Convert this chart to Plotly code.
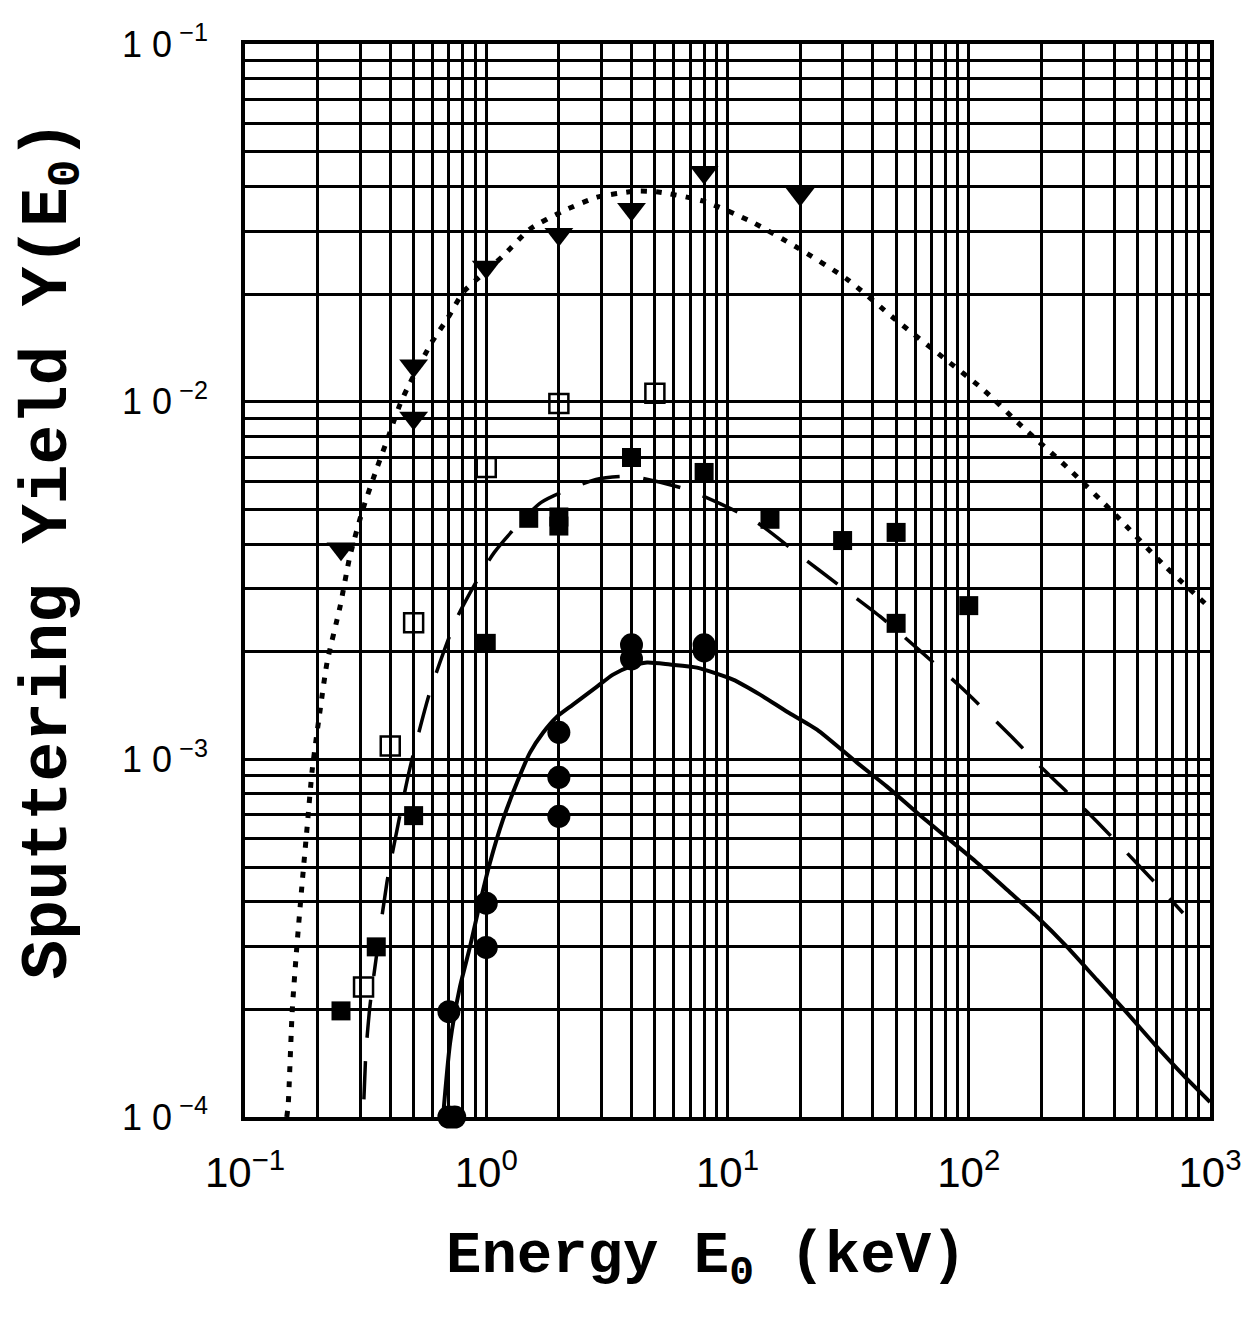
import plotly.graph_objects as go

# ---- measured points -------------------------------------------------------
energy_tri = [0.25, 0.5, 0.5, 1, 2, 4, 8, 20]
yield_tri = [3.88e-3, 1.26e-2, 9.0e-3, 2.38e-2, 2.94e-2, 3.45e-2, 4.38e-2, 3.80e-2]

energy_open = [0.31, 0.4, 0.5, 1, 2, 5]
yield_open = [2.31e-4, 1.09e-3, 2.41e-3, 6.55e-3, 9.89e-3, 1.055e-2]

energy_sq = [0.25, 0.35, 0.5, 1, 1.5, 2, 2, 4, 8, 15, 30, 50, 50, 100]
yield_sq = [1.98e-4, 2.99e-4, 6.96e-4, 2.11e-3, 4.72e-3, 4.76e-3, 4.49e-3,
            6.98e-3, 6.34e-3, 4.69e-3, 4.09e-3, 4.31e-3, 2.40e-3, 2.69e-3]

energy_circ = [0.7, 0.74, 0.7, 1, 1, 2, 2, 2, 4, 4, 8, 8]
yield_circ = [1.0e-4, 1.0e-4, 1.97e-4, 2.98e-4, 3.96e-4, 6.93e-4, 8.91e-4,
              1.19e-3, 1.91e-3, 2.09e-3, 2.01e-3, 2.09e-3]

# ---- calculated yield curves ------------------------------------------------
energy_dot = [0.149, 0.151, 0.157, 0.164, 0.172, 0.181, 0.190, 0.205, 0.219,
              0.248, 0.272, 0.308, 0.353, 0.392, 0.439, 0.474, 0.596, 0.688,
              0.801, 0.916, 1.17, 1.52, 2.08, 2.88, 4.22, 5.25, 7.91, 12.4,
              19.4, 31.3, 49.5, 78.2, 115, 166, 256, 404, 639, 1000]
yield_dot = [1.0e-4, 1.08e-4, 1.99e-4, 2.99e-4, 4.40e-4, 6.48e-4, 9.36e-4,
             1.38e-3, 1.87e-3, 2.68e-3, 3.69e-3, 5.00e-3, 6.55e-3, 7.95e-3,
             9.83e-3, 1.10e-2, 1.47e-2, 1.70e-2, 2.02e-2, 2.20e-2, 2.55e-2,
             3.04e-2, 3.41e-2, 3.73e-2, 3.88e-2, 3.85e-2, 3.64e-2, 3.20e-2,
             2.70e-2, 2.20e-2, 1.70e-2, 1.33e-2, 1.08e-2, 8.53e-3, 6.55e-3,
             4.84e-3, 3.51e-3, 2.65e-3]

energy_dash = [0.311, 0.317, 0.330, 0.388, 0.431, 0.483, 0.585, 0.757, 1.08,
               1.69, 2.85, 3.94, 6.73, 12.9, 20.2, 28.4, 42.9, 63.4, 92.9,
               148, 197, 334, 592, 773]
yield_dash = [1.12e-4, 1.51e-4, 2.06e-4, 4.55e-4, 6.57e-4, 9.48e-4, 1.55e-3,
              2.49e-3, 3.79e-3, 5.23e-3, 6.06e-3, 6.18e-3, 5.69e-3, 4.65e-3,
              3.69e-3, 3.10e-3, 2.51e-3, 2.00e-3, 1.59e-3, 1.17e-3, 9.60e-4,
              6.78e-4, 4.52e-4, 3.72e-4]

energy_solid = [0.662, 0.708, 0.778, 0.856, 0.942, 1.036, 1.173, 1.341, 1.518,
                1.719, 1.965, 2.288, 2.878, 3.353, 3.944, 4.638, 5.775, 7.474,
                10.54, 13.64, 17.65, 23.50, 34.42, 45.83, 61.04, 81.27, 108.2,
                144.1, 191.8, 255.5, 340.1, 452.9, 603.0, 773.0, 1000]
yield_solid = [1.0e-4, 1.61e-4, 2.31e-4, 2.99e-4, 3.97e-4, 5.14e-4, 6.78e-4,
               8.61e-4, 1.044e-3, 1.187e-3, 1.316e-3, 1.422e-3, 1.597e-3,
               1.725e-3, 1.816e-3, 1.865e-3, 1.841e-3, 1.805e-3, 1.671e-3,
               1.517e-3, 1.359e-3, 1.211e-3, 9.79e-4, 8.39e-4, 7.09e-4,
               6.04e-4, 5.14e-4, 4.317e-4, 3.63e-4, 2.99e-4, 2.417e-4,
               1.954e-4, 1.570e-4, 1.311e-4, 1.101e-4]

# ---- axis ticks --------------------------------------------------------------
x_ticks = [0.1, 1, 10, 100, 1000]
x_ticktext = ["10<sup>\u22121</sup>", "10<sup>0</sup>", "10<sup>1</sup>",
              "10<sup>2</sup>", "10<sup>3</sup>"]
y_ticks = [1e-4, 1e-3, 1e-2, 1e-1]
y_ticktext = ["1 0\u2009<sup>\u22124</sup>", "1 0\u2009<sup>\u22123</sup>",
              "1 0\u2009<sup>\u22122</sup>", "1 0\u2009<sup>\u22121</sup>"]

x_minor = [m * 10.0 ** d for d in range(-1, 3) for m in range(2, 10)]
y_minor = [m * 10.0 ** d for d in range(-4, -1) for m in range(2, 10)]

TITLE_FONT = "Liberation Mono, Courier New, monospace"
TICK_FONT = "Liberation Sans Narrow, Liberation Sans, Arial, sans-serif"

fig = go.Figure()

fig.add_trace(go.Scatter(x=energy_dot, y=yield_dot, mode="lines",
                         line=dict(color="black", width=5, dash="6px,9px",
                                   shape="spline", smoothing=0.6),
                         showlegend=False, hoverinfo="skip"))
fig.add_trace(go.Scatter(x=energy_dash, y=yield_dash, mode="lines",
                         line=dict(color="black", width=3.5, dash="38px,24px",
                                   shape="spline", smoothing=0.6),
                         showlegend=False, hoverinfo="skip"))
fig.add_trace(go.Scatter(x=energy_solid, y=yield_solid, mode="lines",
                         line=dict(color="black", width=4,
                                   shape="spline", smoothing=0.6),
                         showlegend=False, hoverinfo="skip"))

fig.add_trace(go.Scatter(x=energy_tri, y=yield_tri, mode="markers",
                         marker=dict(symbol="triangle-down", size=25, color="black",
                                     line=dict(width=0)),
                         cliponaxis=False, showlegend=False))
fig.add_trace(go.Scatter(x=energy_open, y=yield_open, mode="markers",
                         marker=dict(symbol="square-open", size=19, color="black",
                                     line=dict(width=2.5, color="black")),
                         cliponaxis=False, showlegend=False))
fig.add_trace(go.Scatter(x=energy_sq, y=yield_sq, mode="markers",
                         marker=dict(symbol="square", size=19, color="black",
                                     line=dict(width=0)),
                         cliponaxis=False, showlegend=False))
fig.add_trace(go.Scatter(x=energy_circ, y=yield_circ, mode="markers",
                         marker=dict(symbol="circle", size=23, color="black",
                                     line=dict(width=0)),
                         cliponaxis=False, showlegend=False))

grid = dict(showgrid=True, gridcolor="black", gridwidth=2.5)

fig.update_xaxes(type="log", range=[-1, 3], tickmode="array",
                 tickvals=x_ticks, ticktext=x_ticktext,
                 ticks="outside", ticklen=16, tickcolor="rgba(0,0,0,0)",
                 tickfont=dict(family=TICK_FONT, size=42, color="black"),
                 minor=dict(tickmode="array", tickvals=x_minor, ticks="", **grid),
                 showline=True, linecolor="black", linewidth=3.5, mirror=True,
                 zeroline=False, **grid)
fig.update_yaxes(type="log", range=[-4, -1], tickmode="array",
                 tickvals=y_ticks, ticktext=y_ticktext,
                 ticks="outside", ticklen=26, tickcolor="rgba(0,0,0,0)",
                 tickfont=dict(family=TICK_FONT, size=36, color="black"),
                 minor=dict(tickmode="array", tickvals=y_minor, ticks="", **grid),
                 showline=True, linecolor="black", linewidth=3.5, mirror=True,
                 zeroline=False, **grid)

fig.add_annotation(text="Energy E<sub>0</sub> (keV)", xref="paper", yref="paper",
                   x=0.478, y=-0.133, xanchor="center", yanchor="middle",
                   showarrow=False,
                   font=dict(family=TITLE_FONT, size=59, color="black", weight="bold"))
fig.add_annotation(text="Sputtering Yield Y(E<sub>0</sub>)", xref="paper", yref="paper",
                   x=-0.2, y=0.528, xanchor="center", yanchor="middle",
                   textangle=-90, showarrow=False,
                   font=dict(family=TITLE_FONT, size=66, color="black", weight="bold"))

fig.update_layout(width=1259, height=1320,
                  margin=dict(l=245, r=49, t=44, b=203),
                  paper_bgcolor="white", plot_bgcolor="white",
                  showlegend=False)

fig.write_html("out.html")
